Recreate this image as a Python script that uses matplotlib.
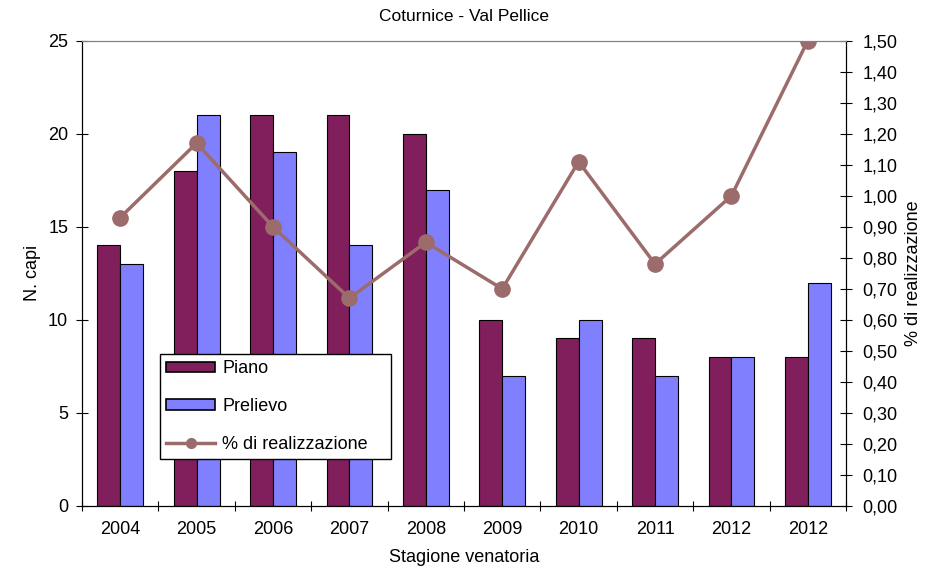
import matplotlib.pyplot as plt
import numpy as np
from matplotlib.lines import Line2D
from matplotlib.patches import Patch

plt.rcParams["font.family"] = ["Liberation Sans", "DejaVu Sans"]

# Data
stagioni = ["2004", "2005", "2006", "2007", "2008", "2009", "2010", "2011", "2012", "2012"]
piano = [14, 18, 21, 21, 20, 10, 9, 9, 8, 8]
prelievo = [13, 21, 19, 14, 17, 7, 10, 7, 8, 12]
realizzazione = [0.93, 1.17, 0.90, 0.67, 0.85, 0.70, 1.11, 0.78, 1.00, 1.50]

col_piano = "#801F5C"
col_prelievo = "#8080FF"
col_line = "#9C6B6B"
fs = 13

fig = plt.figure(figsize=(9.29, 5.70), dpi=100)
ax = fig.add_axes([0.0883, 0.1123, 0.8224, 0.8163])

x = np.arange(len(stagioni))
w = 0.3
ax.bar(x - w / 2, piano, w, color=col_piano, edgecolor="black", linewidth=0.8)
ax.bar(x + w / 2, prelievo, w, color=col_prelievo, edgecolor="black", linewidth=0.8)

ax.set_xlim(-0.5, len(stagioni) - 0.5)
ax.set_ylim(0, 25)
ax.set_yticks(range(0, 26, 5))
ax.set_xticks(x)
ax.set_xticklabels(stagioni)
ax.set_xticks(np.arange(-0.5, len(stagioni), 1), minor=True)
ax.tick_params(axis="x", which="major", length=0, pad=11, labelsize=fs)
ax.tick_params(axis="x", which="minor", length=7.5, direction="inout", width=0.8)
ax.tick_params(axis="y", direction="inout", length=8, width=0.8, labelsize=fs, pad=6)
ax.set_ylabel("N. capi", fontsize=fs, labelpad=5)
ax.set_xlabel("Stagione venatoria", fontsize=fs, labelpad=8)
ax.set_title("Coturnice - Val Pellice", fontsize=12.5, pad=14)
ax.spines["top"].set_color("#808080")

ax2 = ax.twinx()
ax2.plot(x, realizzazione, color=col_line, linewidth=2.5, marker="o", markersize=11)
ax2.set_ylim(0, 1.5)
yt = np.arange(0, 1.51, 0.1)
ax2.set_yticks(yt)
ax2.set_yticklabels([f"{v:.2f}".replace(".", ",") for v in yt])
ax2.tick_params(axis="y", direction="inout", length=8, width=0.8, labelsize=fs, pad=8)
ax2.set_ylabel("% di realizzazione", fontsize=fs, labelpad=5)
ax2.spines["top"].set_color("#808080")

handles = [
    Patch(facecolor=col_piano, edgecolor="black", linewidth=1.2),
    Patch(facecolor=col_prelievo, edgecolor="black", linewidth=1.2),
    Line2D([], [], color=col_line, linewidth=2.5, marker="o", markersize=7),
]
labels = ["Piano", "Prelievo", "% di realizzazione"]
leg = ax2.legend(handles, labels, loc="lower left", bbox_to_anchor=(0.102, 0.101, 0.303, 0.222),
                 mode="expand", fancybox=False, framealpha=1, edgecolor="black",
                 fontsize=fs, labelspacing=1.15, handlelength=2.7, handleheight=0.5,
                 handletextpad=0.4, borderpad=0.35, borderaxespad=0)
leg.get_frame().set_linewidth(1.0)

fig.savefig("out.png", dpi=100)
